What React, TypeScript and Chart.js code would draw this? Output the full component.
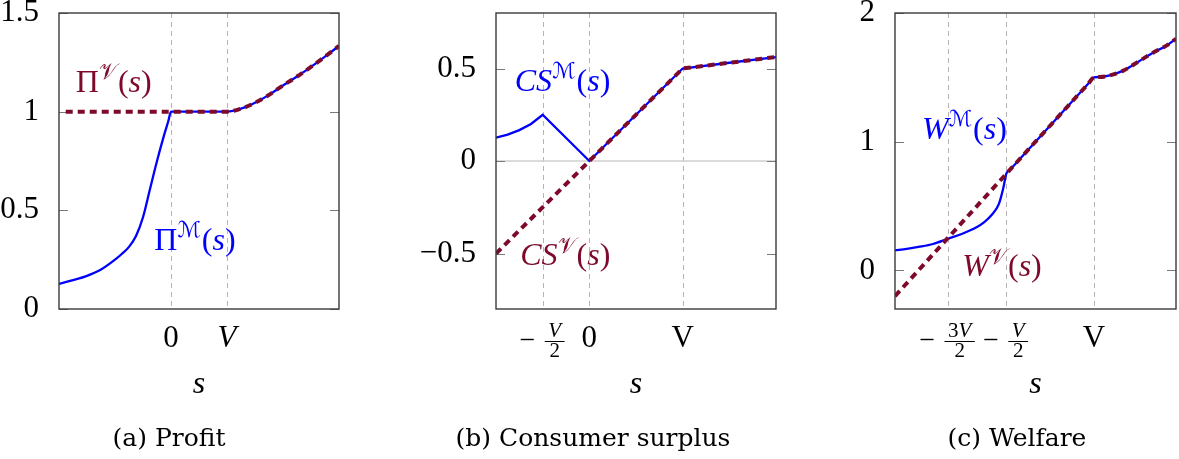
import React, { useEffect, useRef } from 'react';
import { Chart, registerables } from 'chart.js';

Chart.register(...registerables);

// ---------- data: (a) Profit ----------
const profitS_M = [-2, -1.75, -1.5, -1.25, -1, -0.875, -0.75, -0.625, -0.5, -0.375, -0.25, -0.125, -0.05, 0, 0.5, 1, 1.25, 1.5, 1.75, 2, 2.25, 2.5, 2.75, 3];
const profitM = [0.127, 0.146, 0.168, 0.2, 0.25, 0.28, 0.315, 0.37, 0.465, 0.608, 0.75, 0.88, 0.95, 1, 1, 1, 1.015, 1.045, 1.085, 1.133, 1.178, 1.227, 1.279, 1.333];
const profitS_V = [-1.88, 0, 0.5, 1, 1.25, 1.5, 1.75, 2, 2.25, 2.5, 2.75, 3];
const profitV = [1, 1, 1, 1, 1.015, 1.045, 1.085, 1.133, 1.178, 1.227, 1.279, 1.333];
const profitYTicks = [0, 0.5, 1, 1.5];
const profitGridX = [0, 1];

// ---------- data: (b) Consumer surplus ----------
const csS_M = [-1, -0.875, -0.75, -0.625, -0.5, 0, 1, 1.5, 2];
const csM = [0.126, 0.143, 0.167, 0.2, 0.25, 0, 0.5, 0.531, 0.562];
const csS_V = [-1, 0, 1, 1.5, 2];
const csV = [-0.5, 0, 0.5, 0.531, 0.562];
const csYTicks = [-0.5, 0, 0.5];
const csGridX = [-0.5, 0, 1];

// ---------- data: (c) Welfare ----------
const wS_M = [-2.4, -2.2, -2, -1.75, -1.5, -1.25, -1, -0.875, -0.75, -0.625, -0.55, -0.5, -0.45, 0, 0.9, 1, 1.1, 1.25, 1.5, 1.75, 2, 2.25, 2.4];
const wM = [0.155, 0.167, 0.182, 0.205, 0.245, 0.285, 0.337, 0.375, 0.43, 0.517, 0.64, 0.75, 0.775, 1, 1.45, 1.5, 1.503, 1.513, 1.552, 1.62, 1.69, 1.75, 1.8];
const wS_V = [-2.4, -1.5, -0.5, 0, 0.9, 1, 1.1, 1.25, 1.5, 1.75, 2, 2.25, 2.4];
const wV = [-0.2, 0.25, 0.75, 1, 1.45, 1.5, 1.503, 1.513, 1.552, 1.62, 1.69, 1.75, 1.8];
const wYTicks = [0, 1, 2];
const wGridX = [-1.5, -0.5, 1];

// ---------- styling ----------
const MAROON = '#7d0a2b';
const BLUE = '#0000ff';
const SERIF = "'Liberation Serif', 'DejaVu Serif', serif";
const CAPFONT = "'DejaVu Serif', 'Liberation Serif', serif";
const SCRIPT = "'DejaVu Sans', 'DejaVu Serif', 'Noto Sans', serif";
const OFF = 40; // canvas extends above the page top
const H = 499;
const PLOT_TOP = 13;
const PLOT_BOTTOM = 309;

type Part = { t: string; it?: boolean; sup?: boolean; script?: boolean };
type XLabel =
  | { v: number; kind: 'text'; text: string; it?: boolean }
  | { v: number; kind: 'frac'; num: Part[]; den: string };
type Note = { parts: Part[]; x: number; y: number; color: string };
type Series = { s: number[]; v: number[]; kind: 'M' | 'V'; smooth: boolean };
type Panel = {
  canvasLeft: number; canvasWidth: number; plotLeft: number; plotRight: number;
  xMin: number; xMax: number; yMin: number; yMax: number;
  yTicks: number[]; gridX: number[]; zeroLine: boolean;
  xLabels: XLabel[]; series: Series[]; notes: Note[];
  caption: string; captionX: number;
};

const mathTail: Part[] = [{ t: '(' }, { t: 's', it: true }, { t: ')' }];

const panels: Panel[] = [
  {
    canvasLeft: 0, canvasWidth: 395, plotLeft: 59, plotRight: 339,
    xMin: -2, xMax: 3, yMin: 0, yMax: 1.5,
    yTicks: profitYTicks, gridX: profitGridX, zeroLine: false,
    xLabels: [
      { v: 0, kind: 'text', text: '0' },
      { v: 1, kind: 'text', text: 'V', it: true },
    ],
    series: [
      { s: profitS_V, v: profitV, kind: 'V', smooth: true },
      { s: profitS_M, v: profitM, kind: 'M', smooth: true },
    ],
    notes: [
      { parts: [{ t: 'Π' }, { t: '𝒱', sup: true, script: true }, ...mathTail], x: -1.7, y: 1.1, color: MAROON },
      { parts: [{ t: 'Π' }, { t: 'ℳ', sup: true, script: true }, ...mathTail], x: -0.3, y: 0.3, color: BLUE },
    ],
    caption: '(a) Profit', captionX: 169,
  },
  {
    canvasLeft: 395, canvasWidth: 395, plotLeft: 496, plotRight: 776,
    xMin: -1, xMax: 2, yMin: -0.8, yMax: 0.8,
    yTicks: csYTicks, gridX: csGridX, zeroLine: true,
    xLabels: [
      { v: -0.5, kind: 'frac', num: [{ t: 'V', it: true }], den: '2' },
      { v: 0, kind: 'text', text: '0' },
      { v: 1, kind: 'text', text: 'V' },
    ],
    series: [
      { s: csS_V, v: csV, kind: 'V', smooth: false },
      { s: csS_M, v: csM, kind: 'M', smooth: false },
    ],
    notes: [
      { parts: [{ t: 'CS', it: true }, { t: 'ℳ', sup: true, script: true }, ...mathTail], x: -0.8, y: 0.377, color: BLUE },
      { parts: [{ t: 'CS', it: true }, { t: '𝒱', sup: true, script: true }, ...mathTail], x: -0.74, y: -0.564, color: MAROON },
    ],
    caption: '(b) Consumer surplus', captionX: 593,
  },
  {
    canvasLeft: 790, canvasWidth: 389, plotLeft: 895, plotRight: 1176,
    xMin: -2.4, xMax: 2.4, yMin: -0.3, yMax: 2,
    yTicks: wYTicks, gridX: wGridX, zeroLine: false,
    xLabels: [
      { v: -1.5, kind: 'frac', num: [{ t: '3' }, { t: 'V', it: true }], den: '2' },
      { v: -0.5, kind: 'frac', num: [{ t: 'V', it: true }], den: '2' },
      { v: 1, kind: 'text', text: 'V' },
    ],
    series: [
      { s: wS_V, v: wV, kind: 'V', smooth: true },
      { s: wS_M, v: wM, kind: 'M', smooth: true },
    ],
    notes: [
      { parts: [{ t: 'W', it: true }, { t: 'ℳ', sup: true, script: true }, ...mathTail], x: -1.94, y: 1.023, color: BLUE },
      { parts: [{ t: 'W', it: true }, { t: '𝒱', sup: true, script: true }, ...mathTail], x: -1.25, y: -0.047, color: MAROON },
    ],
    caption: '(c) Welfare', captionX: 1017,
  },
];

function fmt(v: number): string {
  return v < 0 ? '\u2212' + String(-v) : String(v);
}

function partFont(p: Part, size: number): string {
  const fs = p.sup ? Math.round(size * 0.68) : size;
  return `${p.it ? 'italic ' : ''}${fs}px ${p.script ? SCRIPT : SERIF}`;
}

function measureParts(ctx: CanvasRenderingContext2D, parts: Part[], size: number): number {
  let w = 0;
  for (const p of parts) {
    ctx.font = partFont(p, size);
    w += ctx.measureText(p.t).width;
  }
  return w;
}

function drawParts(ctx: CanvasRenderingContext2D, parts: Part[], x: number, y: number, size: number) {
  let cx = x;
  for (const p of parts) {
    ctx.font = partFont(p, size);
    const yy = p.sup ? y - size * 0.4 : y;
    ctx.fillText(p.t, cx, yy);
    cx += ctx.measureText(p.t).width + (p.sup ? 1 : 0);
  }
}

function makePlugin(p: Panel) {
  return {
    id: 'panelDecor',
    beforeDatasetsDraw(chart: any) {
      const { ctx, chartArea: a, scales } = chart;
      const xs = scales.x, ys = scales.y;
      ctx.save();
      // vertical dashed grid lines
      ctx.strokeStyle = '#b4b4b4';
      ctx.lineWidth = 1;
      ctx.setLineDash([5, 4]);
      for (const g of p.gridX) {
        const px = Math.round(xs.getPixelForValue(g)) + 0.5;
        ctx.beginPath();
        ctx.moveTo(px, a.top);
        ctx.lineTo(px, a.bottom);
        ctx.stroke();
      }
      ctx.setLineDash([]);
      if (p.zeroLine) {
        ctx.strokeStyle = '#cfcfcf';
        ctx.lineWidth = 1.6;
        const py = ys.getPixelForValue(0);
        ctx.beginPath();
        ctx.moveTo(a.left, py);
        ctx.lineTo(a.right, py);
        ctx.stroke();
      }
      // inner tick marks
      ctx.strokeStyle = '#7a7a7a';
      ctx.lineWidth = 1;
      for (const t of p.yTicks) {
        const py = Math.round(ys.getPixelForValue(t)) + 0.5;
        ctx.beginPath();
        ctx.moveTo(a.left, py);
        ctx.lineTo(a.left + 9, py);
        ctx.moveTo(a.right - 9, py);
        ctx.lineTo(a.right, py);
        ctx.stroke();
      }
      ctx.restore();
    },
    afterDatasetsDraw(chart: any) {
      const { ctx, chartArea: a, scales } = chart;
      const xs = scales.x, ys = scales.y;
      ctx.save();
      // frame
      ctx.strokeStyle = '#3a3a3a';
      ctx.lineWidth = 1.4;
      ctx.strokeRect(a.left, a.top, a.right - a.left, a.bottom - a.top);
      // curve annotations
      ctx.textAlign = 'left';
      ctx.textBaseline = 'alphabetic';
      for (const n of p.notes) {
        ctx.fillStyle = n.color;
        drawParts(ctx, n.parts, xs.getPixelForValue(n.x), ys.getPixelForValue(n.y), 32);
      }
      ctx.restore();
    },
    afterDraw(chart: any) {
      const { ctx, chartArea: a, scales } = chart;
      const xs = scales.x;
      ctx.save();
      ctx.fillStyle = '#000';
      ctx.strokeStyle = '#000';
      ctx.textBaseline = 'alphabetic';
      // x tick labels
      for (const l of p.xLabels) {
        const cx = xs.getPixelForValue(l.v);
        if (l.kind === 'text') {
          ctx.textAlign = 'center';
          ctx.font = `${l.it ? 'italic ' : ''}31px ${SERIF}`;
          ctx.fillText(l.text, cx, a.bottom + 38);
        } else {
          const fs = 21;
          const numW = measureParts(ctx, l.num, fs);
          ctx.font = `${fs}px ${SERIF}`;
          const denW = ctx.measureText(l.den).width;
          const barW = Math.max(numW, denW) + 7;
          const minusW = 13, gap = 11;
          const total = minusW + gap + barW;
          const start = cx - total / 2;
          ctx.lineWidth = 1.4;
          ctx.beginPath();
          ctx.moveTo(start, a.bottom + 30.5);
          ctx.lineTo(start + minusW, a.bottom + 30.5);
          ctx.stroke();
          const fc = start + minusW + gap + barW / 2;
          ctx.textAlign = 'left';
          drawParts(ctx, l.num, fc - numW / 2, a.bottom + 28, fs);
          ctx.lineWidth = 1;
          ctx.beginPath();
          ctx.moveTo(fc - barW / 2, a.bottom + 32.5);
          ctx.lineTo(fc + barW / 2, a.bottom + 32.5);
          ctx.stroke();
          ctx.textAlign = 'center';
          ctx.font = `${fs}px ${SERIF}`;
          ctx.fillText(l.den, fc, a.bottom + 48);
        }
      }
      // axis title
      ctx.textAlign = 'center';
      ctx.font = `italic 32px ${SERIF}`;
      ctx.fillText('s', (a.left + a.right) / 2, a.bottom + 84);
      // caption
      ctx.font = `25px ${CAPFONT}`;
      ctx.fillText(p.caption, p.captionX - p.canvasLeft, a.bottom + 137);
      ctx.restore();
    },
  };
}

function PanelChart({ p }: { p: Panel }) {
  const ref = useRef<HTMLCanvasElement>(null);
  useEffect(() => {
    if (!ref.current) return;
    const datasets = p.series.map((sr) => ({
      data: sr.s.map((s, i) => ({ x: s, y: sr.v[i] })),
      borderColor: sr.kind === 'V' ? MAROON : BLUE,
      borderWidth: sr.kind === 'V' ? 4 : 2.3,
      borderDash: sr.kind === 'V' ? [7, 5] : [],
      borderCapStyle: 'butt' as const,
      pointRadius: 0,
      fill: false,
      tension: 0,
      cubicInterpolationMode: sr.smooth ? ('monotone' as const) : ('default' as const),
    }));
    const chart = new Chart(ref.current, {
      type: 'line',
      data: { datasets },
      options: {
        animation: false,
        responsive: false,
        events: [],
        layout: {
          padding: {
            left: 0,
            right: p.canvasLeft + p.canvasWidth - p.plotRight,
            top: PLOT_TOP + OFF,
            bottom: H - (PLOT_BOTTOM + OFF),
          },
        },
        plugins: { legend: { display: false }, tooltip: { enabled: false }, title: { display: false } },
        scales: {
          x: { type: 'linear', min: p.xMin, max: p.xMax, display: false },
          y: {
            type: 'linear',
            min: p.yMin,
            max: p.yMax,
            afterBuildTicks: (s: any) => {
              s.ticks = p.yTicks.map((v) => ({ value: v }));
            },
            afterFit: (s: any) => {
              s.width = p.plotLeft - p.canvasLeft;
            },
            grid: { display: false },
            border: { display: false },
            ticks: {
              color: '#000',
              autoSkip: false,
              padding: 12,
              font: { family: SERIF, size: 31 },
              callback: (v: any) => fmt(Number(v)),
            },
          },
        },
      },
      plugins: [makePlugin(p)],
    } as any);
    return () => chart.destroy();
  }, [p]);
  return (
    <div style={{ position: 'absolute', left: p.canvasLeft, top: -OFF, width: p.canvasWidth, height: H }}>
      <canvas ref={ref} width={p.canvasWidth} height={H} style={{ width: p.canvasWidth, height: H, display: 'block' }} />
    </div>
  );
}

export default function App() {
  return (
    <div style={{ position: 'absolute', left: 0, top: 0, width: 1179, height: 459, overflow: 'hidden', background: '#fff' }}>
      {panels.map((p, i) => (
        <PanelChart key={i} p={p} />
      ))}
    </div>
  );
}
